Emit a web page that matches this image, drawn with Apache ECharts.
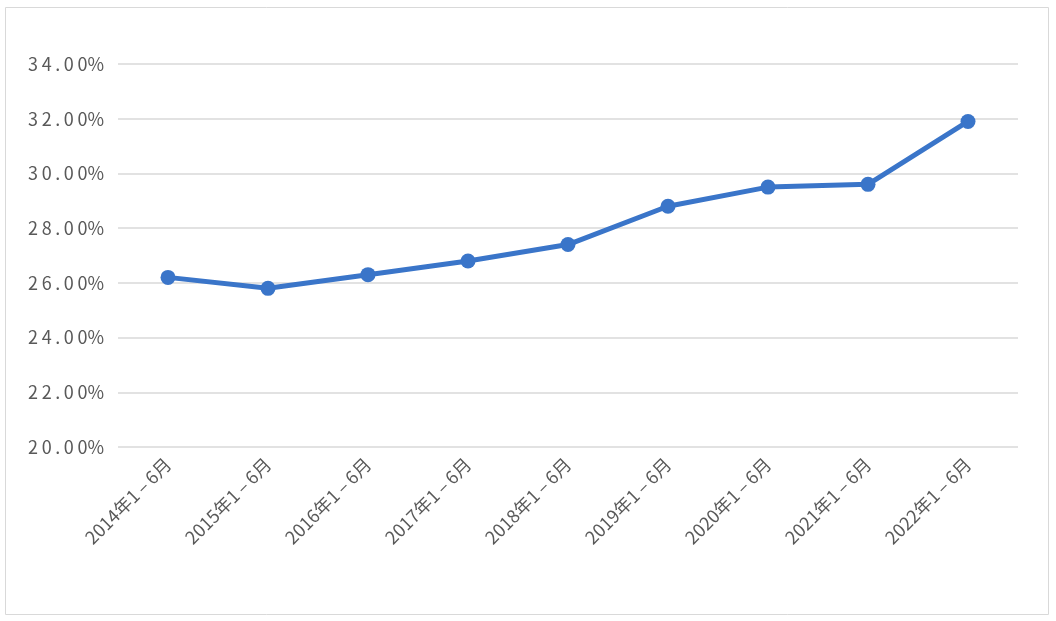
<!DOCTYPE html>
<html><head><meta charset="utf-8">
<script src="https://cdn.jsdelivr.net/npm/echarts@6/dist/echarts.min.js"></script>
<style>html,body{margin:0;padding:0;background:#fff}#c{width:1056px;height:621px}</style>
</head><body><div id="c"></div>
<script>
const categories = ['2014年1-6月','2015年1-6月','2016年1-6月','2017年1-6月','2018年1-6月','2019年1-6月','2020年1-6月','2021年1-6月','2022年1-6月'];
const values = [26.2, 25.8, 26.3, 26.8, 27.4, 28.8, 29.5, 29.6, 31.9];
const chart = echarts.init(document.getElementById('c'));
chart.setOption({
  animation:false,
  graphic:[{type:'rect',shape:{x:5.5,y:7.5,width:1043,height:607},style:{fill:'none',stroke:'#d9d9d9',lineWidth:1}}],
  grid:{left:118,right:38,top:64,bottom:174},
  xAxis:{type:'category',data:categories,boundaryGap:true,
    axisLine:{show:false},axisTick:{show:false},
    axisLabel:{rotate:45,color:'#595959',fontSize:18,fontFamily:'Noto Sans CJK SC',margin:14,interval:0,
      formatter:v=>v.replace('-','\u2009–\u2009')}},
  yAxis:{type:'value',min:20,max:34,interval:2,
    axisLine:{show:false},axisTick:{show:false},
    splitLine:{lineStyle:{color:'#d9d9d9',width:1.5}},
    axisLabel:{color:'#595959',fontSize:18,fontFamily:'Noto Sans CJK SC',margin:14,
      formatter:v=>v.toFixed(2).split('').join('\u2009')+'%'}},
  series:[{type:'line',data:values,symbol:'circle',symbolSize:15,
    lineStyle:{color:'#3a75c9',width:5},itemStyle:{color:'#3a75c9'}}]
});
</script></body></html>
